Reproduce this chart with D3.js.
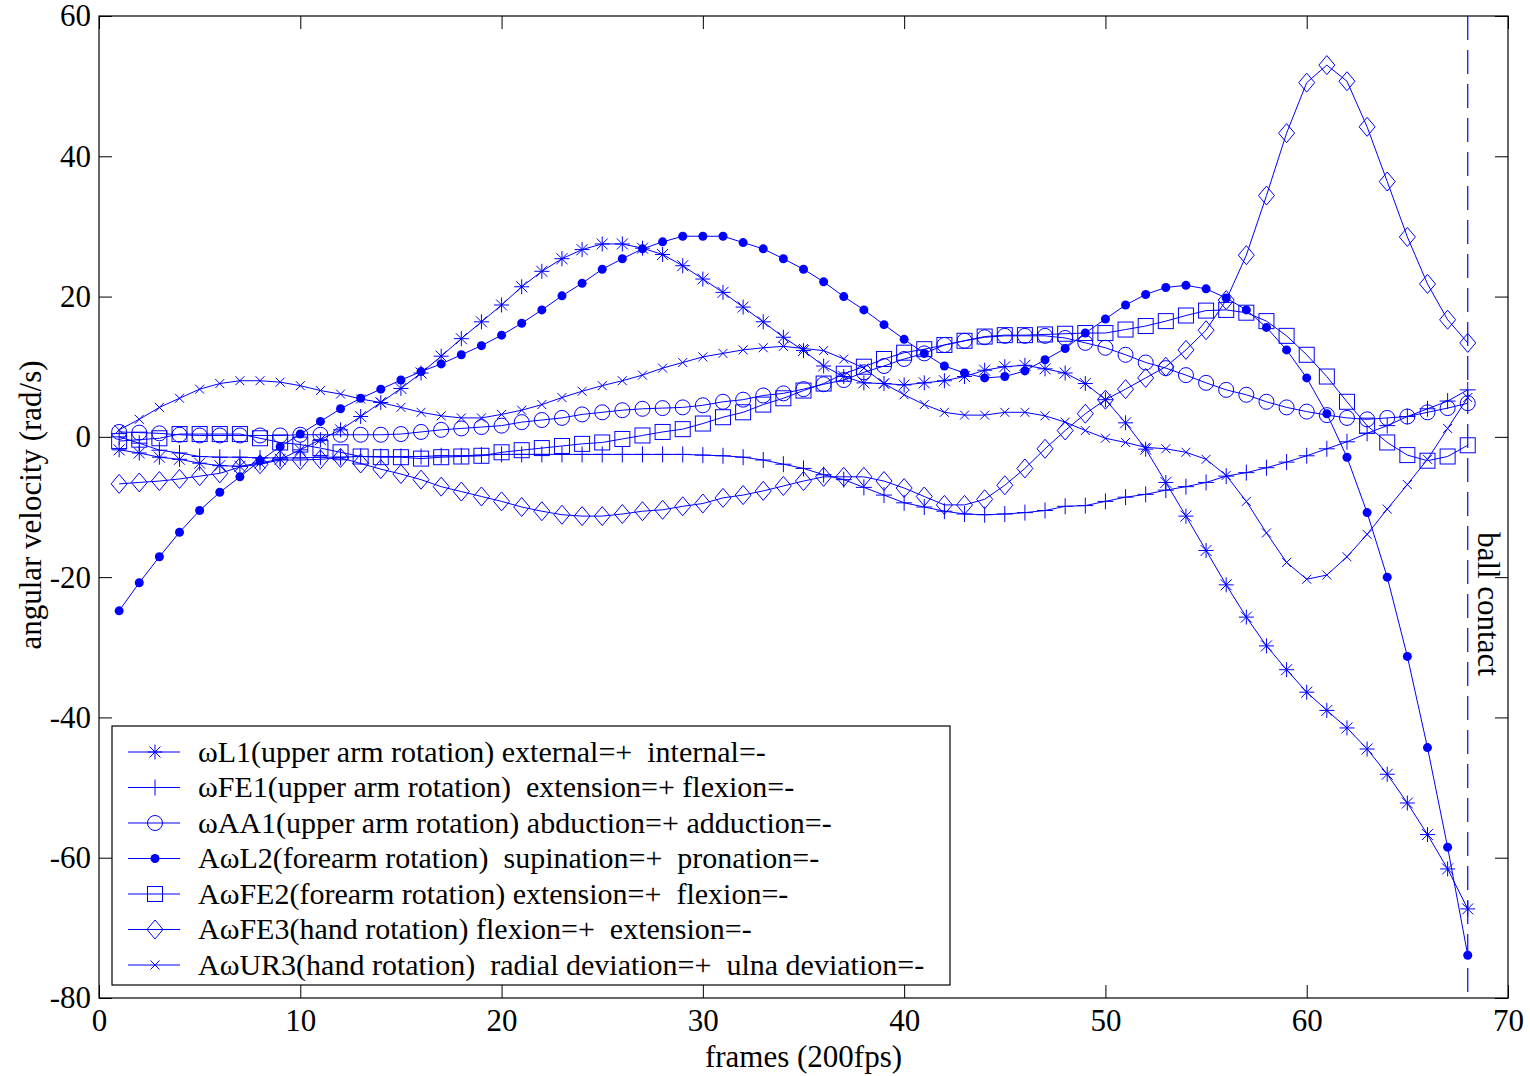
<!DOCTYPE html>
<html>
<head>
<meta charset="UTF-8">
<title>angular velocity</title>
<script src="https://cdn.jsdelivr.net/npm/d3@7"></script>
<style>
  body { margin: 0; background: #fff; }
  text { font-family: "Liberation Serif", "Times New Roman", serif; fill: #000; white-space: pre; }
  .tick line { stroke: #000; }
  .tick text { font-size: 31px; }
</style>
</head>
<body>
<script>
// frames 1..68 (200fps)
var frames = [1,2,3,4,5,6,7,8,9,10,11,12,13,14,15,16,17,18,19,20,21,22,23,24,25,26,27,28,29,30,31,32,33,34,
  35,36,37,38,39,40,41,42,43,44,45,46,47,48,49,50,51,52,53,54,55,56,57,58,59,60,61,62,63,64,65,66,67,68];

var wL1 = [-1.85,-2.3,-2.9,-3.2,-3.75,-4.1,-4.2,-3.7,-3.2,-1.85,-0.4,1.0,2.9,4.9,6.9,9.1,11.5,14.0,16.4,18.8,
  21.4,23.6,25.4,26.7,27.5,27.5,26.9,26.0,24.4,22.5,20.6,18.5,16.4,14.2,12.3,10.1,8.6,7.7,7.6,7.4,
  7.7,8.0,8.6,9.5,10.0,10.2,9.7,9.1,7.6,5.3,2.0,-1.75,-6.5,-11.3,-16.2,-21.1,-25.7,-29.8,-33.2,-36.4,
  -39.0,-41.5,-44.5,-48.1,-52.2,-56.7,-61.6,-67.3];

var wFE1 = [0.0,-0.9,-1.9,-2.3,-2.8,-2.9,-2.9,-3.0,-3.0,-3.0,-2.9,-2.9,-2.8,-2.8,-2.8,-2.8,-2.7,-2.7,-2.6,-2.5,
  -2.5,-2.5,-2.5,-2.5,-2.5,-2.5,-2.5,-2.5,-2.5,-2.6,-2.7,-2.9,-3.3,-3.9,-4.5,-5.4,-6.1,-7.2,-8.3,-9.4,
  -10.0,-10.6,-11.0,-11.1,-11.0,-10.8,-10.5,-9.9,-9.8,-9.2,-8.6,-8.2,-7.6,-7.1,-6.5,-5.6,-5.1,-4.4,-3.6,-2.7,
  -1.7,-0.7,0.5,1.6,2.9,4.0,5.1,6.7];

var wAA1 = [0.7,0.6,0.5,0.3,0.2,0.2,0.2,0.2,0.2,0.3,0.3,0.3,0.3,0.3,0.4,0.7,1.0,1.2,1.4,1.6,
  2.1,2.4,2.7,3.2,3.5,3.8,4.0,4.1,4.2,4.5,5.0,5.3,5.9,6.2,6.8,7.5,8.1,9.2,10.1,11.1,
  11.9,13.1,13.7,14.2,14.4,14.4,14.4,14.1,13.4,12.7,11.7,10.6,9.8,8.8,7.7,6.7,6.0,5.0,4.2,3.6,
  3.1,2.7,2.5,2.7,2.9,3.5,4.1,4.8];

var AwL2 = [-24.8,-20.8,-17.1,-13.6,-10.5,-7.9,-5.7,-3.4,-1.4,0.4,2.2,4.0,5.5,6.8,8.1,9.3,10.4,11.7,13.0,14.5,
  16.2,18.1,20.1,21.9,23.9,25.4,26.8,27.8,28.6,28.6,28.6,27.7,26.8,25.4,23.9,22.1,20.0,18.1,16.0,13.9,
  11.9,10.1,9.1,8.4,8.6,9.4,11.0,12.6,14.8,16.8,18.8,20.3,21.3,21.6,21.1,19.8,18.1,15.6,12.4,8.4,
  3.3,-2.9,-10.8,-20.0,-31.3,-44.3,-58.5,-73.9];

var AwFE2 = [-0.6,-0.4,-0.2,0.4,0.4,0.4,0.4,-0.2,-0.8,-1.1,-1.6,-2.2,-2.8,-2.9,-2.9,-3.1,-2.9,-2.8,-2.7,-2.2,
  -1.9,-1.6,-1.3,-1.0,-0.8,-0.3,0.2,0.7,1.1,1.9,2.8,3.5,4.6,5.5,6.6,7.6,9.0,10.0,11.1,12.0,
  12.5,13.1,13.7,14.3,14.5,14.5,14.6,14.7,14.8,14.8,15.3,15.8,16.5,17.3,18.0,18.1,17.7,16.5,14.4,11.7,
  8.6,5.0,1.6,-0.8,-2.6,-3.4,-2.8,-1.2];

var AwFE3 = [-6.7,-6.5,-6.3,-6.0,-5.6,-5.2,-4.3,-3.9,-3.3,-3.3,-3.2,-3.0,-3.8,-4.6,-5.3,-6.1,-7.1,-7.8,-8.5,-9.2,
  -10.0,-10.6,-11.1,-11.3,-11.3,-11.0,-10.6,-10.4,-9.9,-9.5,-8.7,-8.3,-7.7,-7.0,-6.3,-5.7,-5.7,-5.7,-6.3,-7.3,
  -8.5,-9.7,-9.7,-8.9,-6.9,-4.5,-1.7,0.9,3.3,5.3,6.8,8.4,10.0,12.4,15.2,19.5,25.9,34.4,43.3,50.5,
  53.0,50.7,44.2,36.4,28.5,21.8,16.7,13.4];

var AwUR3 = [1.0,2.5,4.2,5.5,6.8,7.6,8.0,8.0,7.8,7.3,6.6,6.1,5.4,4.9,4.2,3.5,3.0,2.7,2.7,3.2,
  3.8,4.6,5.6,6.5,7.3,8.0,8.8,9.8,10.6,11.4,11.9,12.4,12.7,12.9,12.6,12.3,11.1,9.8,7.6,6.0,
  4.6,3.5,3.1,3.1,3.5,3.5,3.0,2.1,0.9,-0.2,-0.8,-1.5,-1.7,-2.2,-3.2,-5.5,-9.2,-13.7,-17.9,-20.3,
  -19.7,-17.1,-13.9,-10.3,-6.8,-3.2,1.2,5.6];

var seriesNames = [
  "\u03c9L1(upper arm rotation) external=+  internal=-",
  "\u03c9FE1(upper arm rotation)  extension=+ flexion=-",
  "\u03c9AA1(upper arm rotation) abduction=+ adduction=-",
  "A\u03c9L2(forearm rotation)  supination=+  pronation=-",
  "A\u03c9FE2(forearm rotation) extension=+  flexion=-",
  "A\u03c9FE3(hand rotation) flexion=+  extension=-",
  "A\u03c9UR3(hand rotation)  radial deviation=+  ulna deviation=-"
];
var seriesMarkers = ["asterisk", "plus", "circle", "dot", "square", "diamond", "cross"];
var seriesValues = [wL1, wFE1, wAA1, AwL2, AwFE2, AwFE3, AwUR3];

var ballContactFrame = 68;
var xTicks = [0,10,20,30,40,50,60,70];
var yTicks = [-80,-60,-40,-20,0,20,40,60];

// plot box (pixels)
var W = 1530, H = 1076;
var pL = 99, pR = 1508, pT = 16, pB = 998;
var blue = "#0000ff";

var x = d3.scaleLinear().domain([0, 70]).range([pL, pR]);
var y = d3.scaleLinear().domain([-80, 60]).range([pB, pT]);

var svg = d3.select("body").append("svg")
    .attr("width", W)
    .attr("height", H);

// marker shapes
function marker(g, type) {
    if (type == "asterisk") {
        g.append("path").attr("d", "M-7.5,0H7.5M0,-7.5V7.5M-5.5,-5.5L5.5,5.5M-5.5,5.5L5.5,-5.5")
            .attr("stroke", blue).attr("fill", "none");
    } else if (type == "plus") {
        g.append("path").attr("d", "M-8,0H8M0,-8V8").attr("stroke", blue).attr("fill", "none");
    } else if (type == "circle") {
        g.append("circle").attr("r", 7.5).attr("stroke", blue).attr("fill", "none");
    } else if (type == "dot") {
        g.append("circle").attr("r", 4.5).attr("fill", blue);
    } else if (type == "square") {
        g.append("rect").attr("x", -7.5).attr("y", -7.5).attr("width", 15).attr("height", 15)
            .attr("stroke", blue).attr("fill", "none");
    } else if (type == "diamond") {
        g.append("path").attr("d", "M0,-9.5L8,0L0,9.5L-8,0Z").attr("stroke", blue).attr("fill", "none");
    } else if (type == "cross") {
        g.append("path").attr("d", "M-4.5,-4.5L4.5,4.5M-4.5,4.5L4.5,-4.5").attr("stroke", blue).attr("fill", "none");
    }
}

// frame + ticks
svg.append("rect")
    .attr("x", pL).attr("y", pT)
    .attr("width", pR - pL).attr("height", pB - pT)
    .attr("fill", "none").attr("stroke", "#000").attr("stroke-width", 1.2);

var fmt = function(d) { return String(d); };

var gx = svg.append("g").attr("transform", "translate(0," + pB + ")")
    .call(d3.axisBottom(x).tickValues(xTicks).tickSize(-13).tickPadding(11).tickFormat(fmt));
var gxt = svg.append("g").attr("transform", "translate(0," + pT + ")")
    .call(d3.axisTop(x).tickValues(xTicks).tickSize(-13).tickFormat(""));
var gy = svg.append("g").attr("transform", "translate(" + pL + ",0)")
    .call(d3.axisLeft(y).tickValues(yTicks).tickSize(-13).tickPadding(8).tickFormat(fmt));
var gyr = svg.append("g").attr("transform", "translate(" + pR + ",0)")
    .call(d3.axisRight(y).tickValues(yTicks).tickSize(-13).tickFormat(""));
[gx, gxt, gy, gyr].forEach(function(a) {
    a.select(".domain").remove();
    a.selectAll("text").attr("font-family", null).attr("font-size", null);
});

// axis titles
svg.append("text")
    .attr("x", (pL + pR) / 2).attr("y", 1067)
    .attr("text-anchor", "middle").style("font-size", "31px")
    .text("frames (200fps)");

svg.append("text")
    .attr("transform", "translate(41,505) rotate(-90)")
    .attr("text-anchor", "middle").style("font-size", "31px")
    .text("angular velocity (rad/s)");

// series
var line = d3.line()
    .x(function(d) { return x(d[0]); })
    .y(function(d) { return y(d[1]); });

seriesValues.forEach(function(vals, i) {
    var pts = frames.map(function(f, k) { return [f, vals[k]]; });
    var g = svg.append("g").attr("class", "series");
    g.append("path")
        .attr("d", line(pts))
        .attr("fill", "none")
        .attr("stroke", blue)
        .attr("stroke-width", 1);
    g.selectAll(".m")
        .data(pts)
        .enter().append("g")
            .attr("class", "m")
            .attr("transform", function(d) { return "translate(" + x(d[0]) + "," + y(d[1]) + ")"; })
            .each(function() { marker(d3.select(this), seriesMarkers[i]); });
});

// ball contact
svg.append("line")
    .attr("x1", x(ballContactFrame)).attr("x2", x(ballContactFrame))
    .attr("y1", pT).attr("y2", pB)
    .attr("stroke", blue).attr("stroke-width", 1.2)
    .attr("stroke-dasharray", "24,10");

svg.append("text")
    .attr("transform", "translate(1478,604) rotate(90)")
    .attr("text-anchor", "middle").style("font-size", "31px")
    .text("ball contact");

// legend
var legX = 112, legY = 726, legW = 838, legH = 259, rowH = 35.5;
var legend = svg.append("g").attr("class", "legend");
legend.append("rect")
    .attr("x", legX).attr("y", legY)
    .attr("width", legW).attr("height", legH)
    .attr("fill", "#fff").attr("stroke", "#000").attr("stroke-width", 1.2);

var entry = legend.selectAll(".legend-entry")
    .data(seriesNames)
    .enter().append("g")
        .attr("class", "legend-entry")
        .attr("transform", function(d, i) { return "translate(0," + (752 + i * rowH) + ")"; });

entry.append("line")
    .attr("x1", 128).attr("x2", 180)
    .attr("stroke", blue).attr("stroke-width", 1);
entry.append("g")
    .attr("transform", "translate(155,0)")
    .each(function(d, i) { marker(d3.select(this), seriesMarkers[i]); });
entry.append("text")
    .attr("x", 198).attr("dy", "0.33em")
    .style("font-size", "30px")
    .text(function(d) { return d; });
</script>
</body>
</html>
